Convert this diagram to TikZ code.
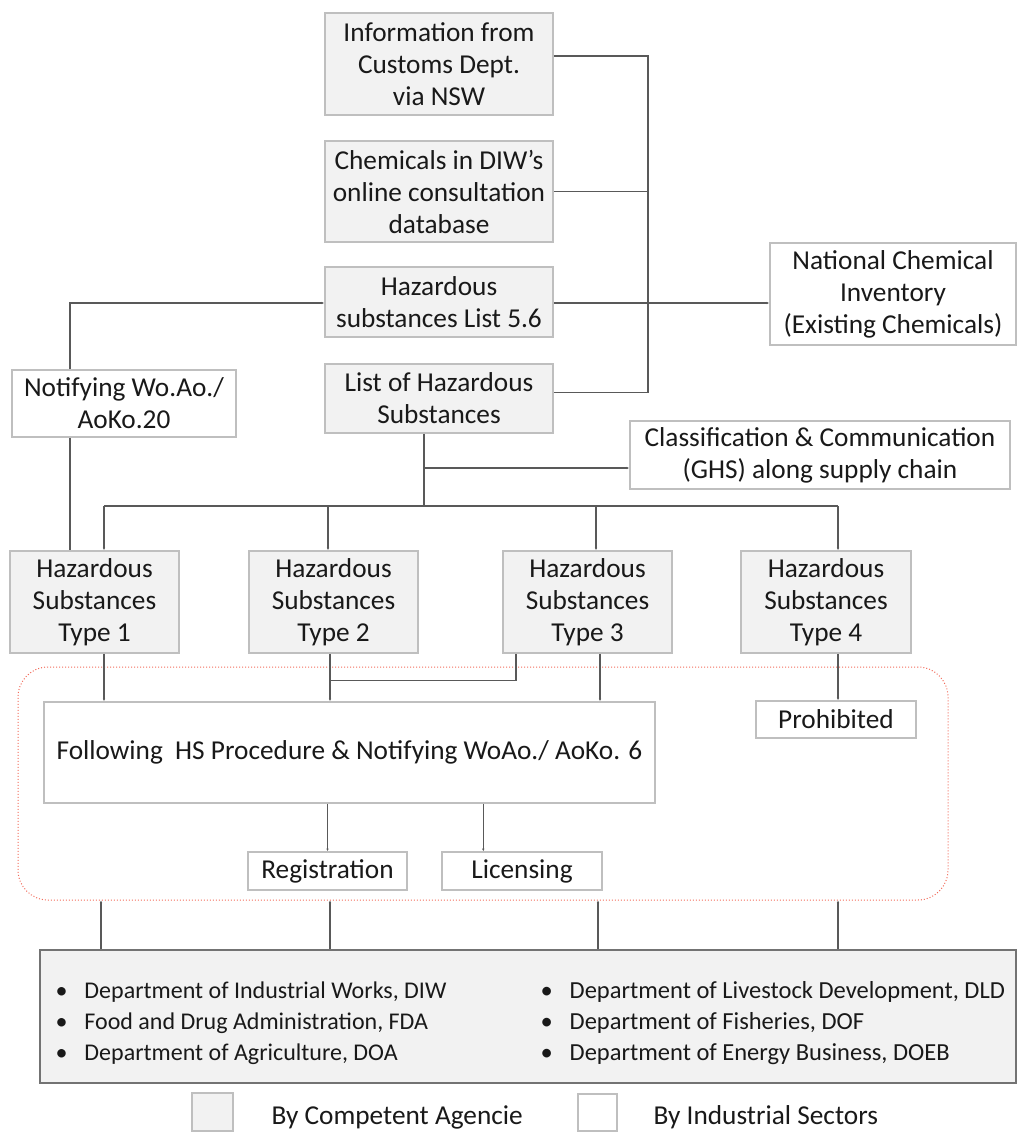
\documentclass[tikz,border=0pt]{standalone}
\usepackage{fontspec}
\setmainfont{Carlito}
\usepackage{xcolor}
\usetikzlibrary{arrows.meta}

\definecolor{boxfill}{HTML}{F2F2F2}
\definecolor{boxline}{HTML}{BFBFBF}
\definecolor{wireline}{HTML}{595959}
\definecolor{framered}{HTML}{F26B5B}

\tikzset{
  agency/.style={draw=boxline, line width=1.6pt, fill=boxfill, align=center, inner sep=0pt},
  sector/.style={draw=boxline, line width=1.6pt, fill=white, align=center, inner sep=0pt},
  wire/.style={draw=wireline, line width=1.1pt},
  tip/.style={wire, -{Latex[length=2.5pt,width=2.5pt]}},
  hsframe/.style={draw=framered, dotted, line width=1pt, rounded corners=30pt, inner sep=0pt}
}

\begin{document}
\begin{tikzpicture}[x=1pt, y=-1pt, font=\fontsize{27.3}{32}\selectfont, text=black!90]
        \useasboundingbox (0,0) rectangle (1018,1133);
        % sources
        \node[agency, minimum width=228, minimum height=102](info) at (439,64) {Information from\\Customs Dept.\\via NSW};
        \node[agency, minimum width=228, minimum height=101](chem) at (439,191.5) {Chemicals in DIW’s\\online consultation\\database};
        \node[agency, minimum width=228, minimum height=70](hs56) at (439,302) {Hazardous\\substances List 5.6};
        \node[agency, minimum width=228, minimum height=69](lhs) at (439,398.5) {List of Hazardous\\Substances};
        \node[sector, minimum width=246, minimum height=102](nci) at (893,294) {National Chemical\\Inventory\\(Existing Chemicals)};
        \node[sector, minimum width=224, minimum height=67](notify) at (124,403.5) {Notifying Wo.Ao./\\AoKo.20};
        \node[sector, minimum width=380, minimum height=68](ghs) at (820,455) {Classification \& Communication\\(GHS) along supply chain};
        % types
        \node[agency, minimum width=169, minimum height=102](type1) at (94.5,602) {Hazardous\\Substances\\Type 1};
        \node[agency, minimum width=169, minimum height=102](type2) at (333.5,602) {Hazardous\\Substances\\Type 2};
        \node[agency, minimum width=169, minimum height=102](type3) at (587.5,602) {Hazardous\\Substances\\Type 3};
        \node[agency, minimum width=170, minimum height=102](type4) at (826,602) {Hazardous\\Substances\\Type 4};
        % procedures
        \node[hsframe, minimum width=930, minimum height=233](frame) at (483,783.5) {};
        \node[sector, minimum width=611, minimum height=101](follow) at (349.5,752.5) {Following\ \ HS Procedure \& Notifying WoAo./ AoKo. 6};
        \node[sector, minimum width=160, minimum height=37](prohib) at (836,719.5) {Prohibited};
        \node[sector, minimum width=159, minimum height=38](reg) at (327.5,871) {Registration};
        \node[sector, minimum width=160, minimum height=38](lic) at (522,871) {Licensing};
        % agencies
        \node[agency, draw=black!55, line width=2.4pt, minimum width=976, minimum height=133](agencies) at (528,1016.5) {};
        \node[anchor=west, font=\fontsize{24}{31}\selectfont, align=left](listA) at (52,1023)
          {\textbullet\hspace{17pt}Department of Industrial Works, DIW\\
           \textbullet\hspace{17pt}Food and Drug Administration, FDA\\
           \textbullet\hspace{17pt}Department of Agriculture, DOA};
        \node[anchor=west, font=\fontsize{24.5}{31}\selectfont, align=left](listB) at (537,1023)
          {\textbullet\hspace{17pt}Department of Livestock Development, DLD\\
           \textbullet\hspace{17pt}Department of Fisheries, DOF\\
           \textbullet\hspace{17pt}Department of Energy Business, DOEB};
        % legend
        \node[agency, minimum width=41, minimum height=38](keyA) at (212.5,1112) {};
        \node[anchor=west](keyAtext) at (268,1117) {By Competent Agencie};
        \node[sector, minimum width=39, minimum height=37](keyB) at (597.5,1112.5) {};
        \node[anchor=west](keyBtext) at (650,1117) {By Industrial Sectors};
        % helper points
        \coordinate(busx) at (648,0);
        \coordinate(hub) at (424,506);
        \coordinate(ghsjoin) at (424,468);
        \coordinate(nleft) at (70,0);
        \coordinate(infoport) at ([yshift=8pt]info.east);
        \coordinate(lhsport) at ([yshift=6pt]lhs.east);
        \coordinate(hsport) at ([yshift=-1pt]hs56.east);
        % right bus
        \draw[wire] (infoport) -| (busx |- lhsport) -- (lhsport);
        \draw[wire] (chem.east) -- (chem.east -| busx);
        \draw[tip] (hsport) -- (hsport -| nci.west);
        % notifying
        \draw[tip] (notify.north -| nleft) |- ([yshift=-1pt]hs56.west);
        \draw[wire] (notify.south -| nleft) -- (type1.north -| nleft);
        % list of hazardous substances
        \draw[wire] (lhs.south -| hub) -- (hub);
        \draw[tip] (ghsjoin) -- (ghsjoin -| ghs.west);
        \draw[wire] ([xshift=9.5pt]type1.north |- hub) -- ([xshift=12pt]type4.north |- hub);
        \foreach \t/\dx in {type1/9.5, type2/-5.5, type3/8.5, type4/12}
          \draw[tip] ([xshift=\dx pt]\t.north |- hub) -- ([xshift=\dx pt]\t.north);
        % into the procedures
        \draw[tip] ([xshift=9.5pt]type1.south) -- ([xshift=9.5pt]type1.south |- follow.north);
        \draw[tip] ([xshift=-3.5pt]type2.south) -- ([xshift=-3.5pt]type2.south |- follow.north);
        \draw[wire] ([xshift=-71.5pt]type3.south) |- ([xshift=-3.5pt,yshift=-27pt]type2.south);
        \draw[tip] ([xshift=12.5pt]type3.south) -- ([xshift=12.5pt]type3.south |- follow.north);
        \draw[tip] ([xshift=12pt]type4.south) -- ([xshift=12pt]type4.south |- prohib.north);
        \draw[tip] (follow.south -| reg.north) -- (reg.north);
        \draw[tip] ([xshift=-172.5pt]follow.south east) -- ([xshift=-172.5pt]follow.south east |- lic.north);
        % agencies up to the frame
        \foreach \x in {101, 330, 598, 838}
          \draw[tip] (agencies.north -| \x,0) -- (frame.south -| \x,0);
        \end{tikzpicture}
\end{document}
